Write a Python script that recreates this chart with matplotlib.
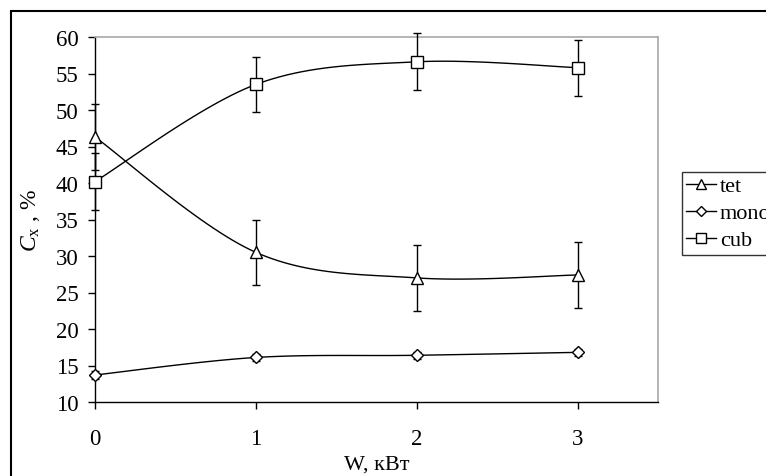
import numpy as np
import matplotlib.pyplot as plt
from matplotlib.patches import Rectangle

plt.rcParams['font.family'] = ['Liberation Serif', 'DejaVu Serif']
plt.rcParams['mathtext.fontset'] = 'custom'
plt.rcParams['mathtext.it'] = 'Liberation Serif:italic'
plt.rcParams['mathtext.rm'] = 'Liberation Serif'

power = [0, 1, 2, 3]
tet = [46.3, 30.5, 27.0, 27.4]
tet_err = [4.5, 4.5, 4.5, 4.5]
mono = [13.7, 16.1, 16.4, 16.8]
mono_err = [0.6, 0.5, 0.5, 0.5]
cub = [40.2, 53.5, 56.6, 55.8]
cub_err = [3.9, 3.8, 3.9, 3.85]


def smooth(x, y, n=30):
    # Excel-style smoothed line (Catmull-Rom via cubic Bezier)
    x = np.asarray(x, float)
    y = np.asarray(y, float)
    pts = np.column_stack([x, y])
    out = []
    t = np.linspace(0, 1, n)[:, None]
    for i in range(len(pts) - 1):
        p0 = pts[max(i - 1, 0)]
        p1 = pts[i]
        p2 = pts[i + 1]
        p3 = pts[min(i + 2, len(pts) - 1)]
        c1 = p1 + (p2 - p0) / 6
        c2 = p2 - (p3 - p1) / 6
        seg = ((1 - t) ** 3) * p1 + 3 * ((1 - t) ** 2) * t * c1 + 3 * (1 - t) * t ** 2 * c2 + t ** 3 * p2
        out.append(seg)
    out = np.vstack(out)
    return out[:, 0], out[:, 1]


fig = plt.figure(figsize=(7.66, 4.77), dpi=100)
ax = fig.add_axes([95 / 766, 74 / 477, 563 / 766, 365 / 477])

series = [
    ('tet', tet, tet_err, '^', 9),
    ('mono', mono, mono_err, 'D', 6.5),
    ('cub', cub, cub_err, 's', 8.5),
]
for name, vals, err, mk, ms in series:
    sx, sy = smooth(power, vals)
    ax.plot(sx, sy, color='black', lw=1, zorder=2)
    eb = ax.errorbar(power, vals, yerr=err, fmt='none', ecolor='black', elinewidth=1,
                     capsize=2.6, capthick=1, zorder=3)
    for a in eb.lines[1] + eb.lines[2]:
        a.set_clip_on(False)
    ax.plot(power, vals, ls='none', marker=mk, ms=ms, mfc='white', mec='black',
            mew=1, zorder=4, clip_on=False)
    ax.plot([], [], color='black', lw=1, marker=mk, ms=ms * 0.85, mfc='white',
            mec='black', mew=1, label=name)

ax.set_xlim(0, 3.5)
ax.set_ylim(10, 60)
ax.set_xticks([0, 1, 2, 3])
ax.set_yticks(range(10, 61, 5))
ax.tick_params(direction='out', length=5, width=1, labelsize=16.5, color='black', pad=7)
ax.tick_params(axis='x', pad=14)
for s in ['top', 'right']:
    ax.spines[s].set_color('#a8a8a8')
    ax.spines[s].set_linewidth(1.2)
for s in ['left', 'bottom']:
    ax.spines[s].set_color('black')
    ax.spines[s].set_linewidth(1)

ax.set_xlabel('W, кВт', fontsize=16, labelpad=4)
ax.set_ylabel(r'$C$$_{\rm x}$ , %', fontsize=17, labelpad=10)

leg = fig.legend(loc='upper left', bbox_to_anchor=(682 / 766, 1 - 173 / 477),
                 frameon=True, fancybox=False, edgecolor='black', fontsize=16,
                 handlelength=1.35, handletextpad=0.15, borderpad=0.2,
                 labelspacing=0.32, borderaxespad=0, handleheight=0.6)
leg.get_frame().set_linewidth(1)

fig.patches.append(Rectangle((11 / 766, -0.2), 1.2, 0.2 + (477 - 12) / 477,
                             transform=fig.transFigure, fill=False,
                             edgecolor='black', lw=1.5))

fig.savefig('out.png', dpi=100)
